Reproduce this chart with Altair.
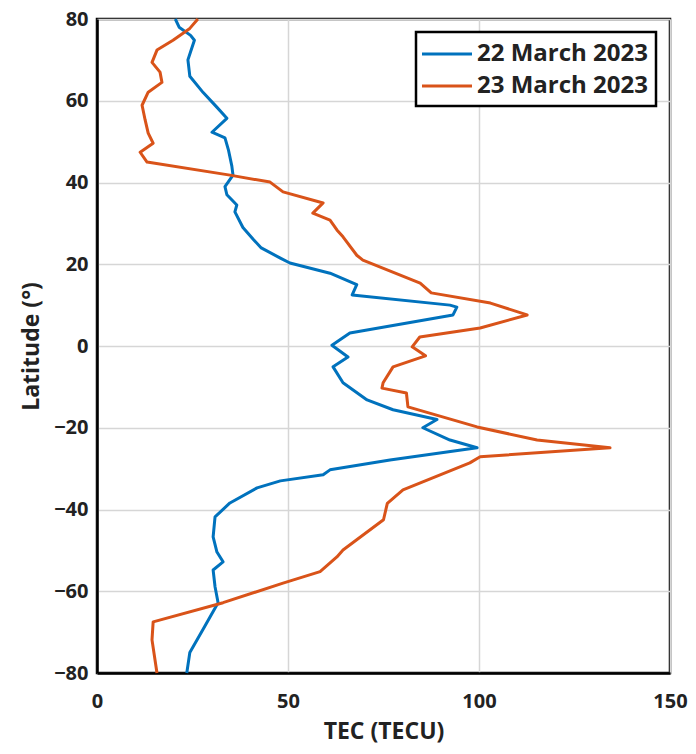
import altair as alt
import pandas as pd

# 22 March 2023 (blue)
lat_22 = [80, 78, 76, 74.8, 72, 70, 66, 62, 58.5, 55.7, 52.3, 50.9, 48, 44, 41.8, 39, 37,
          34.5, 32.8, 29, 26, 24, 21.5, 20.3, 17.8, 15, 12.5, 10, 9.5, 7.6, 3.2, 0.2, -2.7,
          -5.1, -9, -13.2, -15.6, -18, -20, -23, -24.9, -27.9, -30.3, -31.5, -33, -34.7,
          -38.4, -41.8, -46.7, -50.4, -52.8, -54.8, -58.9, -62.8, -69.4, -75, -80]
tec_22 = [20.5, 21.5, 24.5, 25.5, 24.5, 23.8, 24.3, 27.8, 31.3, 34, 30.1, 33.5, 34.4, 35.3,
          35.6, 33.5, 34, 36.6, 36.1, 38.2, 41, 43, 48, 50.5, 61, 68, 66.8, 92.4, 94.2, 93.2,
          66.2, 61.5, 65.7, 61.8, 64.4, 70.7, 77.5, 89, 85.3, 92.4, 99.5, 76.7, 61, 59.2, 48,
          41.9, 34.8, 30.9, 30.4, 31.4, 33, 30.4, 30.9, 31.7, 27.7, 24.3, 23.5]

# 23 March 2023 (orange)
lat_23 = [80, 77.7, 74.8, 72.4, 69.4, 67, 64.5, 62.1, 58.9, 55.3, 52.1, 49.6, 47.4, 45, 41.8,
          40.1, 37.7, 35, 32.5, 30.8, 28.4, 26.7, 22.2, 21, 15.4, 13, 10.5, 7.6, 4.4, 2.2, -0.2,
          -2.4, -5.1, -9, -10.3, -11.5, -14.9, -19.8, -23, -24.9, -27.1, -28.6, -35.2, -38.5,
          -42.5, -49.9, -51.6, -55.2, -58, -62.8, -67.5, -71.9, -80]
tec_23 = [26.4, 24.3, 19.9, 15.7, 14.4, 16.5, 17, 13.4, 11.8, 12.6, 13.4, 14.7, 11.3, 13.1,
          34.8, 45.3, 48.7, 59.2, 56.5, 61, 62.8, 64.4, 68, 69.6, 84.6, 87.5, 103, 112.6, 100.3,
          84.5, 82.5, 86, 77.5, 74.9, 74.6, 81, 81.4, 99.5, 115.2, 134.3, 100.3, 97.6, 80.1, 76,
          75, 64.4, 62.8, 58.4, 48.7, 33, 14.7, 14.4, 15.7]

series = ["22 March 2023", "23 March 2023"]
colors = ["#0072BD", "#D95319"]
x_ticks = [0, 50, 100, 150]
y_ticks = [-80, -60, -40, -20, 0, 20, 40, 60, 80]

rows = []
for i, (la, te) in enumerate(zip(lat_22, tec_22)):
    rows.append({"series": series[0], "lat": la, "tec": te, "idx": i})
for i, (la, te) in enumerate(zip(lat_23, tec_23)):
    rows.append({"series": series[1], "lat": la, "tec": te, "idx": i})
df = pd.DataFrame(rows)

FONT = "Open Sans"

chart = alt.Chart(df).mark_line(strokeWidth=3, strokeJoin="round").encode(
    x=alt.X("tec:Q", scale=alt.Scale(domain=[0, 150], nice=False),
            axis=alt.Axis(title="TEC (TECU)", values=x_ticks, format="d")),
    y=alt.Y("lat:Q", scale=alt.Scale(domain=[-80, 80], nice=False),
            axis=alt.Axis(title="Latitude (°)", values=y_ticks, format="d")),
    color=alt.Color("series:N", scale=alt.Scale(domain=series, range=colors),
                    legend=alt.Legend(title=None, orient="none", legendX=319, legendY=13)),
    order=alt.Order("idx:Q"),
    detail="series:N",
).properties(
    width=573, height=654,
    autosize=alt.AutoSizeParams(type="none"),
    padding={"left": 97, "top": 19, "right": 26, "bottom": 81},
).configure_view(
    stroke="black", strokeWidth=2.5
).configure_axis(
    labelFont=FONT, titleFont=FONT, labelFontSize=20, titleFontSize=23,
    labelFontWeight="bold", titleFontWeight="bold",
    labelColor="#222222", titleColor="#222222",
    grid=True, gridColor="#d6d6d6", gridWidth=1.5,
    domainColor="black", domainWidth=2.5, ticks=False,
).configure_axisX(
    labelPadding=18, titlePadding=9, labelFlush=False,
).configure_axisY(
    labelPadding=9, titlePadding=10,
).configure_legend(
    labelFont=FONT, labelFontSize=24, labelFontWeight="bold", labelColor="#222222",
    labelLimit=400,
    strokeColor="black", strokeWidth=2.5, fillColor="white", padding=8,
    rowPadding=6, symbolType="M-2,0L2,0", symbolSize=625, symbolStrokeWidth=3,
    symbolOffset=9, labelOffset=16, cornerRadius=0,
)

chart.save("out.html", embed_options={"renderer": "svg", "actions": False})
